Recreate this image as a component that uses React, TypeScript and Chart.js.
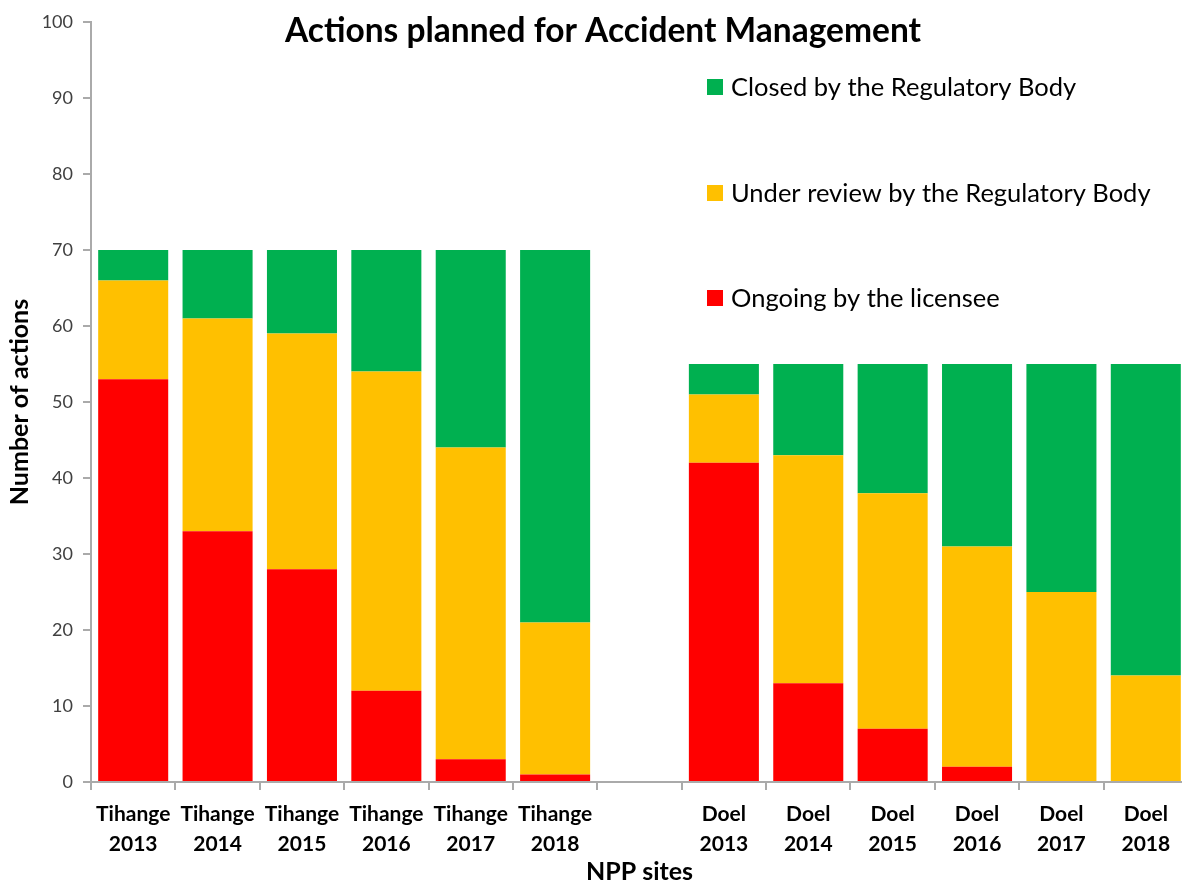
import React, { useEffect, useRef } from "react";
import { Chart, registerables } from "chart.js";

Chart.register(...registerables);

const categories: (string[] | string)[] = [
  ["Tihange", "2013"], ["Tihange", "2014"], ["Tihange", "2015"],
  ["Tihange", "2016"], ["Tihange", "2017"], ["Tihange", "2018"],
  "",
  ["Doel", "2013"], ["Doel", "2014"], ["Doel", "2015"],
  ["Doel", "2016"], ["Doel", "2017"], ["Doel", "2018"],
];

const ongoing = [53, 33, 28, 12, 3, 1, null, 42, 13, 7, 2, 0, 0];
const underReview = [13, 28, 31, 42, 41, 20, null, 9, 30, 31, 29, 25, 14];
const closed = [4, 9, 11, 16, 26, 49, null, 4, 12, 17, 24, 30, 41];

const yTicks = [0, 10, 20, 30, 40, 50, 60, 70, 80, 90, 100];

const seriesNames = [
  "Ongoing by the licensee",
  "Under review by the Regulatory Body",
  "Closed by the Regulatory Body",
];
const seriesColors = ["#FF0000", "#FFC000", "#00B050"];

const chartTitle = "Actions planned for Accident Management";
const xTitle = "NPP sites";
const yTitle = "Number of actions";

const FONT = "Lato, 'Open Sans', sans-serif";

const overlayPlugin = {
  id: "overlay",
  afterDraw(chart: any) {
    const ctx = chart.ctx;
    ctx.save();
    ctx.fillStyle = "#000";
    ctx.textAlign = "center";
    ctx.textBaseline = "middle";
    ctx.font = `bold 33.5px ${FONT}`;
    ctx.fillText(chartTitle, 603, 31);

    const rows = [87, 193, 298];
    const ds = chart.data.datasets;
    ctx.font = `25.5px ${FONT}`;
    ctx.textAlign = "left";
    for (let i = 0; i < ds.length; i++) {
      const d = ds[ds.length - 1 - i];
      const y = rows[i];
      ctx.fillStyle = d.backgroundColor;
      ctx.fillRect(707, y - 8, 16, 16);
      ctx.fillStyle = "#000";
      ctx.fillText(d.label, 731, y + 1);
    }
    ctx.restore();
  },
};

export default function App() {
  const ref = useRef<HTMLCanvasElement>(null);
  useEffect(() => {
    if (!ref.current) return;
    const chart = new Chart(ref.current, {
      type: "bar",
      data: {
        labels: categories as any,
        datasets: [
          { label: seriesNames[0], data: ongoing as any, backgroundColor: seriesColors[0] },
          { label: seriesNames[1], data: underReview as any, backgroundColor: seriesColors[1] },
          { label: seriesNames[2], data: closed as any, backgroundColor: seriesColors[2] },
        ],
      },
      options: {
        animation: false,
        responsive: false,
        layout: { padding: { top: 22, right: 1, left: 0, bottom: 0 } },
        datasets: { bar: { categoryPercentage: 1, barPercentage: 0.83, borderWidth: 0 } },
        plugins: { legend: { display: false }, tooltip: { enabled: false }, title: { display: false } },
        scales: {
          x: {
            stacked: true,
            afterFit: (s: any) => { s.height = 102; },
            grid: { display: true, offset: true, drawOnChartArea: false, tickLength: 8, color: "#aaaaaa", lineWidth: 2 },
            border: { display: true, color: "#aaaaaa", width: 2 },
            ticks: {
              color: "#000",
              font: { family: FONT, size: 21, weight: "bold", lineHeight: 1.43 },
              padding: 9,
              maxRotation: 0,
              autoSkip: false,
            },
            title: {
              display: true, text: xTitle, color: "#000",
              font: { family: FONT, size: 25, weight: "bold", lineHeight: 1.0 },
              padding: { top: 0, bottom: 0 },
            },
          },
          y: {
            stacked: true,
            min: 0, max: 100,
            afterFit: (s: any) => { s.width = 91; },
            afterBuildTicks: (s: any) => { s.ticks = yTicks.map((v) => ({ value: v })); },
            grid: { display: true, drawOnChartArea: false, tickLength: 8, color: "#aaaaaa", lineWidth: 2 },
            border: { display: true, color: "#aaaaaa", width: 2 },
            ticks: { color: "#404040", font: { family: FONT, size: 18 }, padding: 10 },
            title: {
              display: true, text: yTitle, color: "#000",
              font: { family: FONT, size: 25, weight: "bold", lineHeight: 1.2 },
              padding: { top: 5, bottom: 0 },
            },
          },
        },
      },
      plugins: [overlayPlugin],
    });
    return () => chart.destroy();
  }, []);
  return (
    <div style={{ position: "fixed", left: 0, top: 0, width: 1182, height: 884, overflow: "hidden", background: "#fff" }}>
      <canvas ref={ref} width={1189} height={884} style={{ display: "block", width: 1189, height: 884 }} />
    </div>
  );
}
